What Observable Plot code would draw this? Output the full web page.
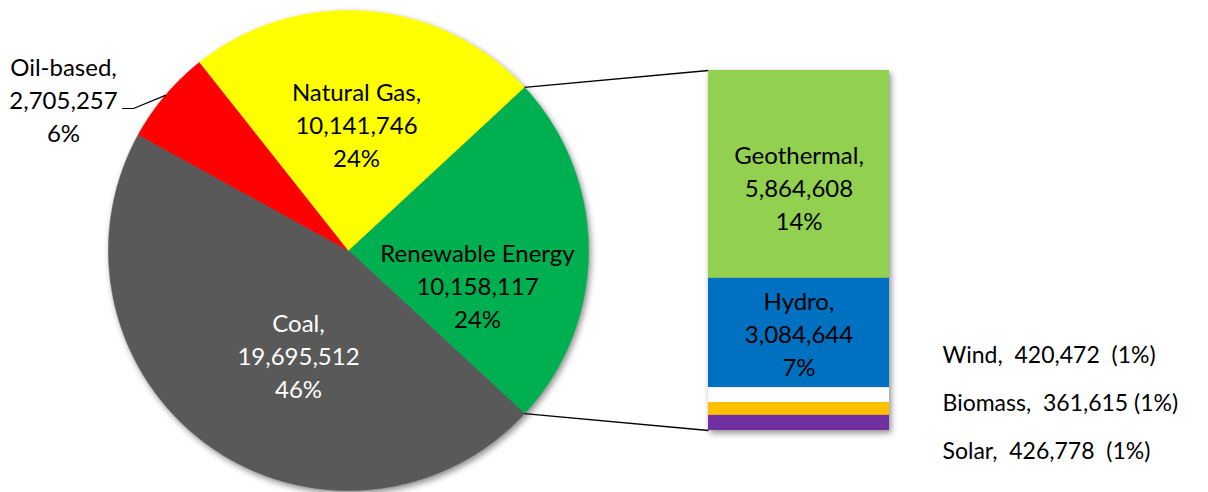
<!DOCTYPE html>
<html><head><meta charset="utf-8">
<script src="https://cdn.jsdelivr.net/npm/d3@7"></script>
<script src="https://cdn.jsdelivr.net/npm/@observablehq/plot@0.6"></script>
<style>
html,body{margin:0;padding:0;background:#fff;}
#chart{position:relative;width:1208px;height:492px;overflow:hidden;font-family:Lato,sans-serif;}
#chart svg{position:absolute;overflow:visible;}
#chart svg text{white-space:pre;}
</style></head><body><div id="chart"></div>
<script>
// ---- data ----
const mainNames  = ["Renewable Energy", "Coal", "Oil-based", "Natural Gas"];
const mainLabels = ["Renewable Energy", "Coal,", "Oil-based,", "Natural Gas,"];
const mainValues = [10158117, 19695512, 2705257, 10141746];
const mainColors = ["#00B050", "#595959", "#FF0000", "#FFFF00"];

const subNames  = ["Geothermal", "Hydro", "Wind", "Biomass", "Solar"];
const subValues = [5864608, 3084644, 420472, 361615, 426778];
const subColors = ["#92D050", "#0070C0", "#FFFFFF", "#FFC000", "#7030A0"];
const sideNames = ["Wind", "Biomass", "Solar"];
const sideGaps  = ["  ", " ", "  "];

// ---- layout ----
const W = 1208, H = 492;
const cx = 348, cy = 250, R = 240;
const bar = {left: 708, top: 70, width: 181, height: 360};
const fontSize = 24, lineH = 1.375, sideFontSize = 23;
const labelPos = {"Renewable Energy": [477, 284], "Coal": [298, 354], "Oil-based": [63, 98], "Natural Gas": [356, 123]};
const sidePos = [[942, 355], [942, 403], [942, 451]];
const oilElbow = [[133, 108], [122, 108]];
const shadow = "drop-shadow(2px 3px 3px rgba(0,0,0,0.45))";

// ---- derived ----
const total = d3.sum(mainValues);
const pct = v => d3.format(".0%")(v / total);
const num = d3.format(",");
const mainData = mainNames.map((name, i) => ({name, value: mainValues[i], label: mainLabels[i]}));
const subData = subNames.map((name, i) => ({name, value: subValues[i]}));

const renewAngle = 2 * Math.PI * mainValues[0] / total;
const a0 = Math.PI / 2 - renewAngle / 2;
const arcs = d3.pie().sort(null).value(d => d.value).startAngle(a0).endAngle(a0 + 2 * Math.PI)(mainData);
const pt = (a, k = 1) => ({x: k * Math.sin(a), y: k * Math.cos(a)});
const px = (X, Y) => ({x: (X - cx) / R, y: (cy - Y) / R});

const slices = arcs.flatMap(a => {
  const n = Math.max(2, Math.ceil((a.endAngle - a.startAngle) / 0.004));
  const pts = [{...pt(0, 0), name: a.data.name}];
  for (let i = 0; i <= n; i++) {
    const t = a.startAngle + (a.endAngle - a.startAngle) * i / n;
    pts.push({...pt(t), name: a.data.name});
  }
  return pts;
});

const labels = mainData.map(d => ({
  ...px(...labelPos[d.name]), name: d.name,
  text: `${d.label}\n${num(d.value)}\n${pct(d.value)}`
}));

const renew = arcs[0];
const links = [
  {p1: pt(renew.startAngle), p2: px(bar.left, bar.top)},
  {p1: pt(renew.endAngle), p2: px(bar.left, bar.top + bar.height)}
];
const oil = arcs[2];
const oilLeader = [pt((oil.startAngle + oil.endAngle) / 2), ...oilElbow.map(p => px(...p))];

const sideLabels = sideNames.map((name, i) => {
  const v = subValues[subNames.indexOf(name)];
  return {...px(...sidePos[i]), text: `${name},  ${num(v)}${sideGaps[i]}(${pct(v)})`};
});

const font = {fontFamily: "Lato, sans-serif", fontSize: fontSize + "px", background: "transparent"};

// ---- pie plot ----
const pie = Plot.plot({
  width: W, height: H, margin: 0,
  x: {type: "linear", domain: [-cx / R, (W - cx) / R], range: [0, W], axis: null},
  y: {type: "linear", domain: [-(H - cy) / R, cy / R], range: [H, 0], axis: null},
  color: {domain: mainNames, range: mainColors},
  style: font,
  marks: [
    Plot.line(slices, {x: "x", y: "y", z: "name", fill: "name", stroke: "name", strokeWidth: 0.6}),
    Plot.link(links, {x1: d => d.p1.x, y1: d => d.p1.y, x2: d => d.p2.x, y2: d => d.p2.y, stroke: "black", strokeWidth: 1.4}),
    Plot.line(oilLeader, {x: "x", y: "y", stroke: "black", strokeWidth: 1.2}),
    Plot.text(labels.filter(d => d.name !== "Coal"), {x: "x", y: "y", text: "text", fill: "black", fontSize, lineHeight: lineH}),
    Plot.text(labels.filter(d => d.name === "Coal"), {x: "x", y: "y", text: "text", fill: "white", fontSize, lineHeight: lineH}),
    Plot.text(sideLabels, {x: "x", y: "y", text: "text", fill: "black", fontSize: sideFontSize, textAnchor: "start"})
  ]
});
pie.style.left = "0px"; pie.style.top = "0px";
d3.select(pie).select('g[aria-label="line"]').style("filter", shadow);

// ---- bar plot ----
const barX = () => "Renewable Energy";
const subLabel = d => `${d.name},\n${num(d.value)}\n${pct(d.value)}`;
const barPlot = Plot.plot({
  width: bar.width, height: bar.height, margin: 0,
  x: {domain: ["Renewable Energy"], padding: 0, axis: null},
  y: {domain: [0, d3.sum(subValues)], axis: null},
  color: {domain: subNames, range: subColors},
  style: font,
  marks: [
    Plot.barY(subData, Plot.stackY({x: barX, y: "value", fill: "name", reverse: true})),
    Plot.text(subData, Plot.stackY({x: barX, y: "value", reverse: true, text: d => d.name === "Geothermal" ? subLabel(d) : "", fill: "black", fontSize, lineHeight: lineH, dy: 12})),
    Plot.text(subData, Plot.stackY({x: barX, y: "value", reverse: true, text: d => d.name === "Hydro" ? subLabel(d) : "", fill: "black", fontSize, lineHeight: lineH, dy: -1}))
  ]
});
barPlot.style.left = bar.left + "px"; barPlot.style.top = bar.top + "px";
d3.select(barPlot).select('g[aria-label="bar"]').style("filter", shadow);

const chart = document.getElementById("chart");
chart.appendChild(pie);
chart.appendChild(barPlot);
</script></body></html>
